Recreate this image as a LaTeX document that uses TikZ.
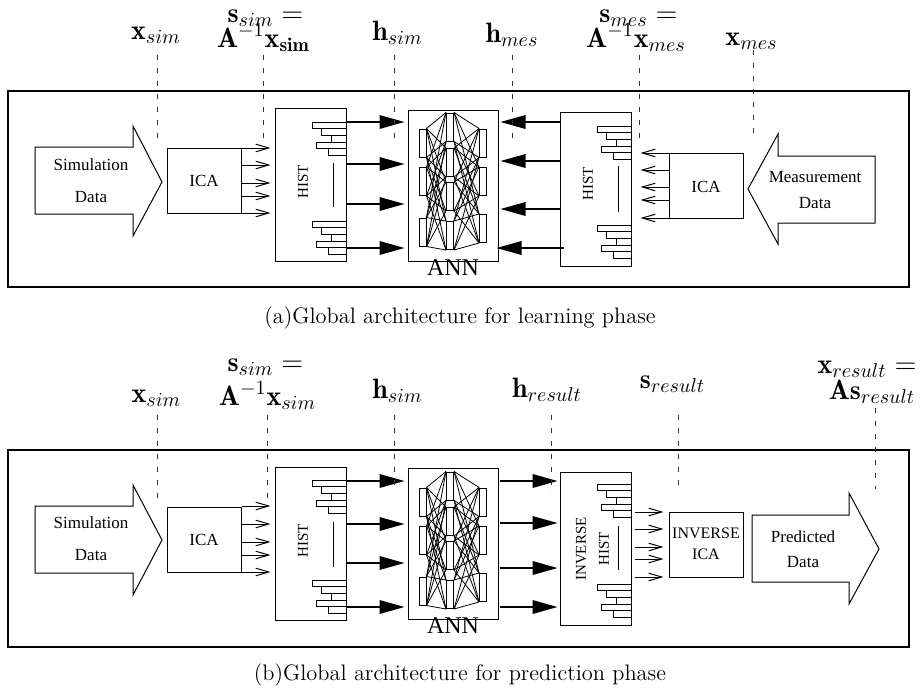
\documentclass[tikz,border=0pt]{standalone}
\usepackage{fontspec}
\newfontfamily\tms{Liberation Serif}
\usetikzlibrary{arrows.meta,calc,backgrounds}

% five stacked bars of a histogram, right-aligned at #1, starting at height #2
\newcommand\histbars[2]{%
  \foreach \w [count=\i from 0] in {34,25,15,30,18}
    \draw[bar] ({#1-\w},{#2+\i*6.7}) rectangle (#1,{#2+(\i+1)*6.7});}

% three-layer network drawn inside an ANN box; #1 name prefix, #2 vertical shift
\newcommand\annlayers[2]{%
  \foreach \yy [count=\i] in {143,181.5,232}
    \node[neuron] (#1a\i) at (422.5,{\yy+#2}) {};
  \foreach \yy [count=\i] in {127,162.5,196.5,235.5}
    \node[neuron] (#1b\i) at (450,{\yy+#2}) {};
  \foreach \yy [count=\i] in {143,181.5,228.5}
    \node[neuron] (#1c\i) at (483,{\yy+#2}) {};
  \begin{scope}[on background layer]
    \foreach \i in {1,2,3} \foreach \j in {1,...,4} {
      \draw[link] (#1a\i.north east) -- (#1b\j.north west);
      \draw[link] (#1a\i.south east) -- (#1b\j.south west);}
    \foreach \i in {1,...,4} \foreach \j in {1,2,3} {
      \draw[link] (#1b\i.north east) -- (#1c\j.north west);
      \draw[link] (#1b\i.south east) -- (#1c\j.south west);}
  \end{scope}}

\begin{document}
\begin{tikzpicture}[x=0.5pt,y=-0.5pt,
  frame/.style={draw, line width=1pt},
  box/.style={draw, line width=0.5pt, inner sep=0pt},
  icabox/.style={box, minimum width=37pt, minimum height=32.5pt},
  histbox/.style={box, minimum width=35.5pt, minimum height=#1},
  annbox/.style={box, minimum width=45pt, minimum height=75.5pt},
  bar/.style={draw, line width=0.5pt, fill=white},
  neuron/.style={draw, fill=white, line width=0.5pt, minimum width=3.5pt,
    minimum height=14pt, inner sep=0pt},
  link/.style={line width=0.4pt},
  bigarr/.style={line width=0.75pt, -{Triangle[length=12.5pt,width=6.8pt]}},
  smallarr/.style={line width=0.5pt, -{Straight Barb[length=6.5pt,width=3.8pt]}},
  guide/.style={line width=0.5pt, black!80, dash pattern=on 2.5pt off 4pt},
  lbl/.style={font=\fontsize{14}{14}\selectfont, inner sep=0pt, anchor=base},
  captxt/.style={font=\fontsize{11.2}{13}\selectfont, inner sep=0pt, anchor=base},
  txt/.style={font=\tms\fontsize{8.5}{10}\selectfont, inner sep=0pt, align=center},
  histtxt/.style={font=\tms\fontsize{7.5}{11.5}\selectfont, inner sep=0pt,
    rotate=90, align=center},
  anntxt/.style={font=\tms\fontsize{12}{12}\selectfont, inner sep=0pt},
  bigarrow/.style={draw, line width=0.5pt, fill=white},
  vbar/.style={line width=0.5pt}]
\useasboundingbox (0,0) rectangle (920,691);

%% ---------------- learning phase ----------------
\draw[frame] (8,91) rectangle (909,287);

% simulation data
\draw[bigarrow] (35,147) -- (133,147) -- (133,126) -- (162,182) -- (133,236)
  -- (133,214) -- (35,214) -- cycle;
\node[txt, font=\tms\fontsize{8.5}{16}\selectfont] (simA) at (91,181) {Simulation\\Data};

\node[icabox] (icaA) at (204,180.5) {};
\node[txt] (icaAtxt) at (204,181) {ICA};

\node[histbox=76.5pt] (histA) at (310.5,184.5) {};
\node[histtxt] (histAtxt) at (303,182) {HIST};
\draw[vbar] (333,163) -- (333,207);
\histbars{346}{122}
\histbars{346}{221}

\node[annbox] (annA) at (453,185.5) {};
\node[anntxt] (annAtxt) at (453,268) {ANN};
\annlayers{nA}{0}

\node[histbox=77pt] (histB) at (595.5,189) {};
\node[histtxt] (histBtxt) at (588,184) {HIST};
\draw[vbar] (618,166) -- (618,212);
\histbars{631}{126}
\histbars{631}{225}

\node[icabox] (icaB) at (706,185.5) {};
\node[txt] (icaBtxt) at (706,187) {ICA};

% measurement data
\draw[bigarrow] (875,156) -- (778,156) -- (778,134) -- (748,189) -- (778,244)
  -- (778,223) -- (875,223) -- cycle;
\node[txt, font=\tms\fontsize{8.5}{13}\selectfont] (mesA) at (815,190) {Measurement\\Data};

% connectors
\foreach \yy in {148,165,183,196,213}
  \draw[smallarr, shorten >=2pt] (icaA.east |- 0,\yy) -- (histA.west |- 0,\yy);
\foreach \yy in {122,164,204,248}
  \draw[bigarr, shorten >=1.5pt] (histA.east |- 0,\yy) -- (annA.west |- 0,\yy);
\foreach \yy in {122,161,209}
  \draw[bigarr, shorten >=1pt] (histB.west |- 0,\yy) -- (annA.east |- 0,\yy);
\draw[bigarr, shorten <=-2pt, shorten >=-1pt] (histB.west |- 0,248) -- (annA.east |- 0,248);
\foreach \yy in {153,170,187,200,218}
  \draw[smallarr, shorten >=4.5pt] (icaB.west |- 0,\yy) -- (histB.east |- 0,\yy);

% signal labels
\node[lbl] (lxsimA) at (156,39) {$\mathbf{x}_{sim}$};
\node[lbl] (lssimA1) at (265.5,22) {$\mathbf{s}_{sim} =$};
\node[lbl] (lssimA2) at (263.5,47) {$\mathbf{A}^{-1}\mathbf{x}_{\mathbf{sim}}$};
\node[lbl] (lhsimA) at (397.5,40) {$\mathbf{h}_{sim}$};
\node[lbl] (lhmes) at (512,42) {$\mathbf{h}_{mes}$};
\node[lbl] (lsmes1) at (638.5,22) {$\mathbf{s}_{mes} =$};
\node[lbl] (lsmes2) at (636,47) {$\mathbf{A}^{-1}\mathbf{x}_{mes}$};
\node[lbl] (lxmes) at (751.5,45) {$\mathbf{x}_{mes}$};

\coordinate (gA1t) at (157,55);  \coordinate (gA1b) at (157,143);
\coordinate (gA2t) at (263,55);  \coordinate (gA2b) at (263,145);
\coordinate (gA3t) at (394,55);  \coordinate (gA3b) at (394,143);
\coordinate (gA4t) at (512,55);  \coordinate (gA4b) at (512,143);
\coordinate (gA5t) at (639,55);  \coordinate (gA5b) at (639,143);
\coordinate (gA6t) at (753,50);  \coordinate (gA6b) at (753,138);
\foreach \g in {gA1,gA2,gA3,gA4,gA5,gA6}
  \draw[guide] (\g t) -- (\g b);

\node[captxt] (capA) at (460,323) {(a)Global architecture for learning phase};

%% ---------------- prediction phase ----------------
\draw[frame] (8,450) rectangle (909,647);

\draw[bigarrow] (35,506) -- (133,506) -- (133,485) -- (162,540) -- (133,595)
  -- (133,573) -- (35,573) -- cycle;
\node[txt, font=\tms\fontsize{8.5}{16}\selectfont] (simB) at (91,539) {Simulation\\Data};

\node[icabox] (icaC) at (204,539.5) {};
\node[txt] (icaCtxt) at (204,540) {ICA};

\node[histbox=76.5pt] (histC) at (310.5,543.5) {};
\node[histtxt] (histCtxt) at (303,541) {HIST};
\draw[vbar] (333,522) -- (333,567);
\histbars{346}{480}
\histbars{346}{580}

\node[annbox] (annB) at (453,544) {};
\node[anntxt] (annBtxt) at (453,626) {ANN};
\annlayers{nB}{359}

\node[histbox=76.5pt] (histD) at (595.5,548.5) {};
\node[histtxt] (histDtxt) at (592.5,549) {INVERSE\\HIST};
\draw[vbar] (618,526) -- (618,570);
\histbars{631}{484}
\histbars{631}{584}

\node[icabox] (icaD) at (706,544.5) {};
\node[txt, font=\tms\fontsize{8}{10.5}\selectfont] (icaDtxt) at (706,543.5) {INVERSE\\ICA};

% predicted data
\draw[bigarrow] (752,515) -- (849,515) -- (849,493) -- (879,549) -- (849,604)
  -- (849,582) -- (752,582) -- cycle;
\node[txt, font=\tms\fontsize{8.5}{12.5}\selectfont] (preB) at (803,549.5) {Predicted\\Data};

% connectors
\foreach \yy in {506,524,542,555,572}
  \draw[smallarr, shorten >=2pt] (icaC.east |- 0,\yy) -- (histC.west |- 0,\yy);
\foreach \yy in {481,524,563,607}
  \draw[bigarr, shorten >=1.5pt] (histC.east |- 0,\yy) -- (annB.west |- 0,\yy);
\foreach \yy in {481,523,568,607}
  \draw[bigarr, shorten <=0.5pt, shorten >=1pt] (annB.east |- 0,\yy) -- (histD.west |- 0,\yy);
\foreach \yy in {512,529,547,559,577}
  \draw[smallarr, shorten <=1.5pt, shorten >=2.5pt] (histD.east |- 0,\yy) -- (icaD.west |- 0,\yy);

% signal labels
\node[lbl] (lxsimB) at (156.5,402) {$\mathbf{x}_{sim}$};
\node[lbl] (lssimB1) at (265.5,371) {$\mathbf{s}_{sim} =$};
\node[lbl] (lssimB2) at (267.5,405) {$\mathbf{A}^{-1}\mathbf{x}_{sim}$};
\node[lbl] (lhsimB) at (397.5,398) {$\mathbf{h}_{sim}$};
\node[lbl] (lhres) at (547,397) {$\mathbf{h}_{result}$};
\node[lbl] (lsres) at (672.5,388) {$\mathbf{s}_{result}$};
\node[lbl] (lxres1) at (867,373) {$\mathbf{x}_{result} =$};
\node[lbl] (lxres2) at (872,399) {$\mathbf{A}\mathbf{s}_{result}$};

\coordinate (gB1t) at (157,415);  \coordinate (gB1b) at (157,498);
\coordinate (gB2t) at (267,415);  \coordinate (gB2b) at (267,498);
\coordinate (gB3t) at (394,415);  \coordinate (gB3b) at (394,493);
\coordinate (gB4t) at (551,415);  \coordinate (gB4b) at (551,493);
\coordinate (gB5t) at (678,415);  \coordinate (gB5b) at (678,493);
\coordinate (gB6t) at (875,408);  \coordinate (gB6b) at (875,489);
\foreach \g in {gB1,gB2,gB3,gB4,gB5,gB6}
  \draw[guide] (\g t) -- (\g b);

\node[captxt] (capB) at (460,680) {(b)Global architecture for prediction phase};
\end{tikzpicture}
\end{document}
